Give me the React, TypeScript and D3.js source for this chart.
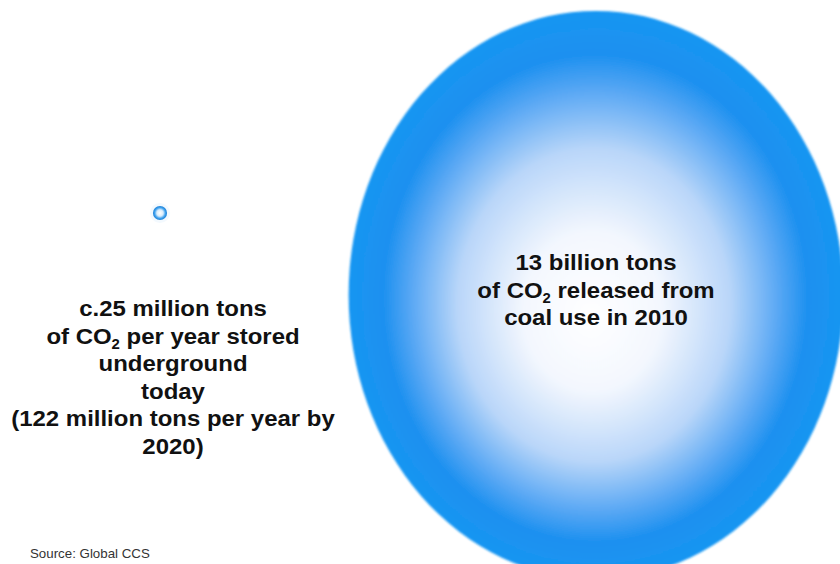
import React from "react";
import * as d3 from "d3";

const bubbleNames = ["stored", "coal"];
const bubbleValues = [25, 13000]; // million tons of CO2
const leftLines = [
  ["c.25 million tons"],
  ["of CO", "2", " per year stored"],
  ["underground"],
  ["today"],
  ["(122 million tons per year by"],
  ["2020)"],
];
const rightLines = [
  ["13 billion tons"],
  ["of CO", "2", " released from"],
  ["coal use in 2010"],
];
const sourceText = "Source: Global CCS";

const W = 840;
const H = 564;
const STRETCH = 1.065;

function Line({ parts, x, y }: { parts: string[]; x: number; y: number }) {
  return (
    <text transform={`translate(${x},${y}) scale(${STRETCH},1)`} textAnchor="middle">
      {parts.length === 1 ? (
        parts[0]
      ) : (
        <>
          <tspan>{parts[0]}</tspan>
          <tspan dy={5} fontSize={14}>{parts[1]}</tspan>
          <tspan dy={-5}>{parts[2]}</tspan>
        </>
      )}
    </text>
  );
}

export default function App() {
  const r = d3.scalePow().exponent(0.58).domain([0, 13000]).range([0, 266]);
  const rSmall = r(bubbleValues[0]);
  const rBig = r(bubbleValues[1]);
  const lineStep = 27.6;
  return (
    <svg
      width={W}
      height={H}
      style={{ position: "absolute", left: 0, top: 0, background: "#fff" }}
      fontFamily="'Liberation Sans', Arial, sans-serif"
    >
      <defs>
        <radialGradient id="bigGrad" cx="0.5" cy="0.5" r="0.5" fx="0.49" fy="0.54">
          <stop offset="0" stopColor="#ffffff" />
          <stop offset="0.28" stopColor="#f3f7fe" />
          <stop offset="0.55" stopColor="#b9d6f9" />
          <stop offset="0.74" stopColor="#5aa8f4" />
          <stop offset="0.86" stopColor="#1c90f0" />
          <stop offset="1" stopColor="#1896f2" />
        </radialGradient>
        <radialGradient id="smallGrad" cx="0.5" cy="0.5" r="0.5">
          <stop offset="0" stopColor="#ffffff" />
          <stop offset="0.45" stopColor="#d8ecfc" />
          <stop offset="0.75" stopColor="#3fa2ef" />
          <stop offset="1" stopColor="#1b7fd6" />
        </radialGradient>
        <filter id="blur" x="-10%" y="-10%" width="120%" height="120%">
          <feGaussianBlur stdDeviation="0.8" />
        </filter>
      </defs>
      <g data-name={bubbleNames[1]}>
        <ellipse
          cx={596}
          cy={295}
          rx={rBig * 0.93}
          ry={rBig * 1.068}
          fill="url(#bigGrad)"
          filter="url(#blur)"
        />
      </g>
      <g data-name={bubbleNames[0]}>
        <circle cx={160} cy={213} r={rSmall + 3} fill="#eef6fd" opacity={0.7} />
        <circle cx={160} cy={213} r={rSmall} fill="url(#smallGrad)" />
      </g>
      <g fontSize={22.5} fontWeight="bold" fill="#111">
        {leftLines.map((p, i) => (
          <Line key={i} parts={p} x={173} y={316 + i * lineStep} />
        ))}
        {rightLines.map((p, i) => (
          <Line key={i} parts={p} x={596} y={270 + i * lineStep} />
        ))}
      </g>
      <text transform={`translate(30,558) scale(${STRETCH},1)`} fontSize={12.5} fill="#333">
        {sourceText}
      </text>
    </svg>
  );
}
